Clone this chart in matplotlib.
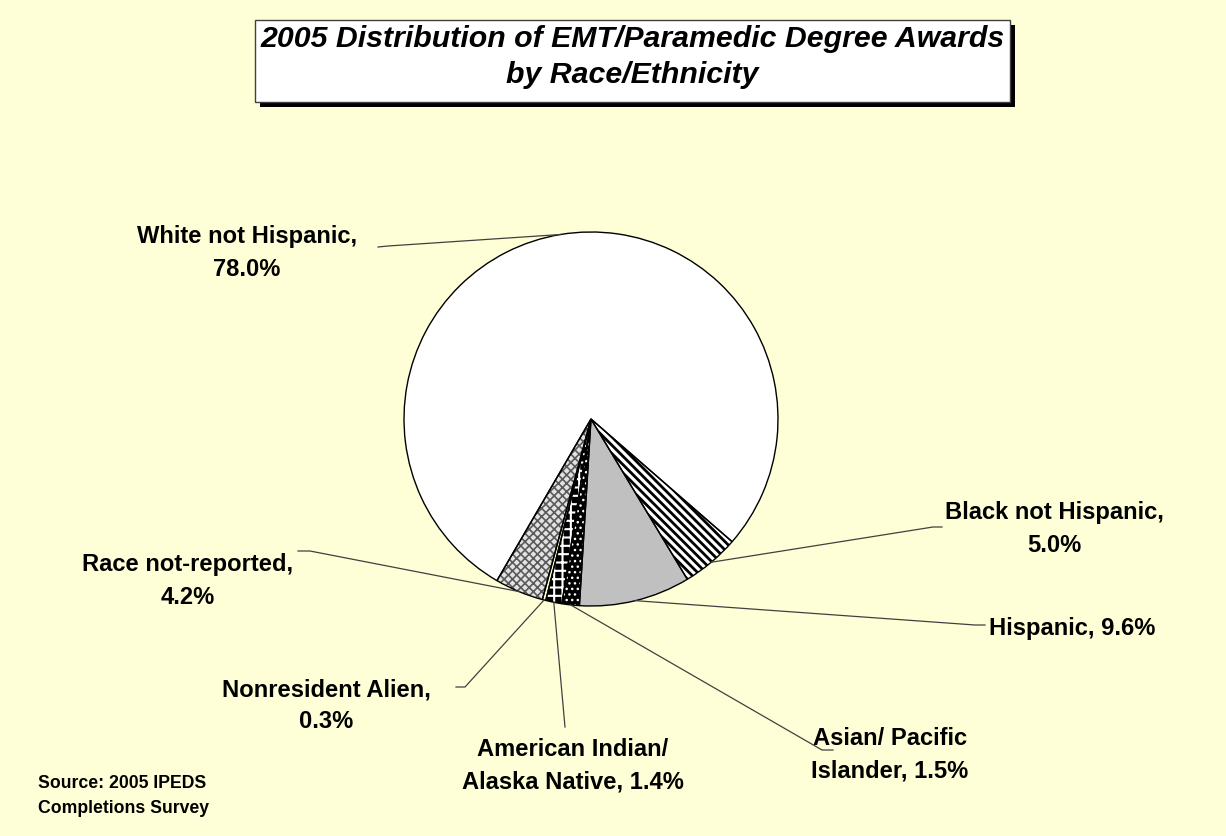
import matplotlib
matplotlib.use("Agg")
import matplotlib.pyplot as plt
from matplotlib.patches import Wedge, Rectangle
import numpy as np

plt.rcParams['font.family'] = ['Liberation Sans', 'DejaVu Sans']

# ---- data ----
categories = ["Black not Hispanic", "Hispanic", "Asian/ Pacific\nIslander",
              "American Indian/\nAlaska Native", "Nonresident Alien",
              "Race not-reported", "White not Hispanic"]
values = [5.0, 9.6, 1.5, 1.4, 0.3, 4.2, 78.0]
label_texts = ["Black not Hispanic,\n5.0%", "Hispanic, 9.6%",
               "Asian/ Pacific\nIslander, 1.5%",
               "American Indian/\nAlaska Native, 1.4%",
               "Nonresident Alien,\n0.3%", "Race not-reported,\n4.2%",
               "White not Hispanic,\n78.0%"]
title_lines = ["2005 Distribution of EMT/Paramedic Degree Awards", "by Race/Ethnicity"]
source_text = "Source: 2005 IPEDS\nCompletions Survey"

W, H = 1226, 837
BG = "#FFFFD7"

def Y(y):
    return H - y

fig = plt.figure(figsize=(W / 100, H / 100), dpi=100, facecolor=BG)
ax = fig.add_axes([0, 0, 1, 1])
ax.set_facecolor(BG)

cx, cy, R = 591, Y(420), 187

faces = ["white", "#C0C0C0", "black", "black", "#FFFFCC", "#E2E2E2", "white"]
hatches = ["\\" * 4, None, "...", "++", None, "xxxx", None]
hatch_cols = ["black", None, "white", "white", None, "#5A5A5A", None]
hatch_lw = [2.0, 1, 1.0, 1.5, 1, 1.2, 1]

wedges, _ = ax.pie(values, startangle=-41, counterclock=False, center=(cx, cy),
                   radius=R, colors=faces, frame=True,
                   wedgeprops=dict(edgecolor="none", linewidth=0))
for i, w in enumerate(wedges):
    if hatches[i]:
        plt.rcParams['hatch.linewidth'] = hatch_lw[i]
        hw = Wedge((cx, cy), R, w.theta1, w.theta2, facecolor="none",
                   edgecolor=hatch_cols[i], hatch=hatches[i], linewidth=0)
        if hasattr(hw, "set_hatch_linewidth"):
            hw.set_hatch_linewidth(hatch_lw[i])
        ax.add_patch(hw)
for w in wedges:
    ax.add_patch(Wedge((cx, cy), R, w.theta1, w.theta2, facecolor="none",
                       edgecolor="black", linewidth=1.0, zorder=3))

# label positions (pixels) and leader elbows
label_pos = [(1054, 529), (1072, 628), (890, 755), (573, 766),
             (326, 706), (188, 581), (247, 253)]
elbows = [[(933, 528), (942, 528)],
          [(975, 626), (985, 626)],
          [(822, 751), (833, 751)],
          [(565, 728)],
          [(465, 688), (456, 688)],
          [(310, 552), (298, 552)],
          [(388, 247), (378, 248)]]

for i, w in enumerate(wedges):
    mid = np.deg2rad((w.theta1 + w.theta2) / 2)
    px, py = cx + R * np.cos(mid), cy + R * np.sin(mid)
    xs = [px] + [e[0] for e in elbows[i]]
    ys = [py] + [Y(e[1]) for e in elbows[i]]
    ax.plot(xs, ys, color="#404040", lw=0.9, zorder=4)
    lx, ly = label_pos[i]
    ax.text(lx, Y(ly), label_texts[i], ha="center", va="center",
            fontsize=17.1, fontweight="bold", linespacing=1.5, color="black")

# title box with shadow
bx0, by0, bx1, by1 = 255, 21, 1010, 103
ax.add_patch(Rectangle((bx0 + 5, Y(by1 + 5)), bx1 - bx0, by1 - by0,
                       facecolor="black", edgecolor="none", zorder=5))
ax.add_patch(Rectangle((bx0, Y(by1)), bx1 - bx0, by1 - by0,
                       facecolor="white", edgecolor="#404040", lw=1.0, zorder=6))
ax.text((bx0 + bx1) / 2, Y(39), title_lines[0], ha="center", va="center",
        fontsize=21.8, fontweight="bold", fontstyle="italic", zorder=7)
ax.text((bx0 + bx1) / 2, Y(75), title_lines[1], ha="center", va="center",
        fontsize=21.8, fontweight="bold", fontstyle="italic", zorder=7)

ax.text(38, Y(796), source_text, ha="left", va="center", fontsize=12.7,
        fontweight="bold", linespacing=1.55)

ax.set_xlim(0, W)
ax.set_ylim(0, H)
ax.set_aspect('equal')
ax.axis('off')

fig.savefig("out.png", dpi=100, facecolor=BG)
